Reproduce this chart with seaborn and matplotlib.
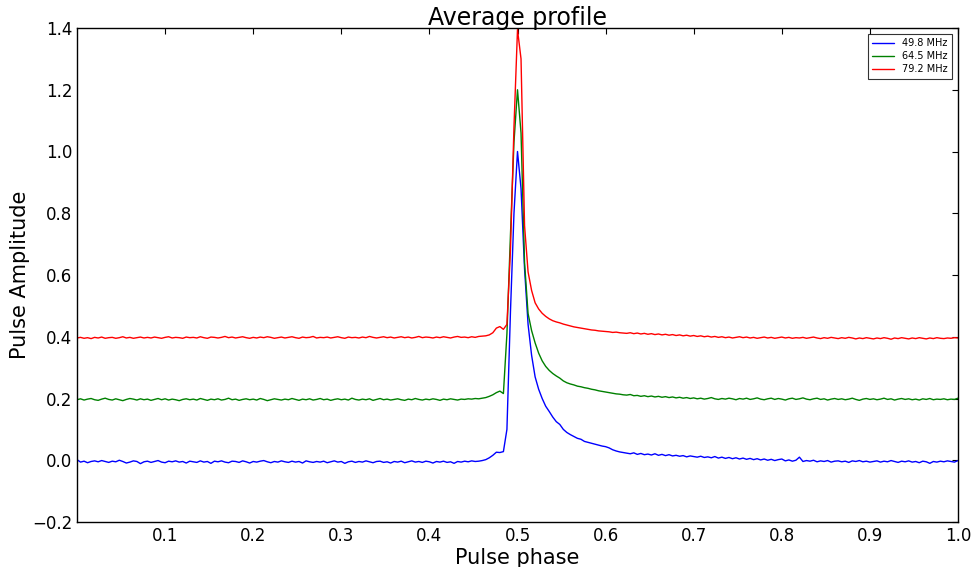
import numpy as np
import pandas as pd
import matplotlib
matplotlib.use("Agg")
import matplotlib.pyplot as plt
import seaborn as sns

# ---- data ----
freq_labels = ["49.8 MHz", "64.5 MHz", "79.2 MHz"]
phase_step = 0.004

amp_49_8 = [
    0.002, -0.006, -0.003, -0.008, -0.004, -0.002, -0.005, -0.001, -0.004, -0.007,
    -0.003, -0.005, 0.000, -0.004, -0.009, -0.006, -0.002, -0.004, -0.011, -0.005,
    -0.003, -0.007, -0.004, -0.001, -0.006, -0.008, -0.003, -0.005, -0.002, -0.006,
    -0.004, -0.009, -0.003, -0.005, -0.007, -0.002, -0.006, -0.004, -0.010, -0.003,
    -0.005, -0.002, -0.006, -0.008, -0.003, -0.004, -0.007, -0.002, -0.005, -0.009,
    -0.004, -0.006, -0.003, -0.001, -0.005, -0.008, -0.004, -0.006, -0.002, -0.005,
    -0.007, -0.003, -0.006, -0.004, -0.009, -0.002, -0.005, -0.007, -0.004, -0.006,
    -0.003, -0.008, -0.005, -0.002, -0.006, -0.004, -0.010, -0.005, -0.003, -0.007,
    -0.004, -0.006, -0.002, -0.005, -0.008, -0.004, -0.003, -0.007, -0.005, -0.009,
    -0.004, -0.006, -0.003, -0.008, -0.005, -0.002, -0.006, -0.004, -0.007, -0.003,
    -0.005, -0.009, -0.004, -0.006, -0.003, -0.007, -0.005, -0.010, -0.004, -0.006,
    -0.003, -0.005, -0.002, -0.004, -0.003, -0.001,
    0.002, 0.008, 0.016, 0.026, 0.025, 0.028, 0.100, 0.480, 0.800, 1.000,
    0.880, 0.620, 0.440, 0.340, 0.270, 0.230, 0.200, 0.175, 0.158, 0.140,
    0.125, 0.116, 0.100, 0.090, 0.083, 0.077, 0.071, 0.068, 0.061, 0.058,
    0.055, 0.052, 0.049, 0.046, 0.044, 0.040, 0.034, 0.030, 0.027, 0.025,
    0.023, 0.021, 0.024, 0.019, 0.022, 0.018, 0.020, 0.017, 0.021, 0.016,
    0.019, 0.015, 0.018, 0.014, 0.016, 0.013, 0.015, 0.011, 0.014, 0.012,
    0.010, 0.013, 0.009, 0.011, 0.008, 0.012, 0.007, 0.010, 0.006, 0.009,
    0.005, 0.008, 0.004, 0.007, 0.003, 0.006, 0.002, 0.005, 0.001, 0.004,
    0.000, 0.003, -0.001, 0.002, 0.004, -0.002, 0.001, -0.003, 0.000, 0.010,
    -0.004, -0.001, -0.003, 0.000, -0.005, -0.002, -0.004, -0.001, -0.006, -0.003,
    -0.002, -0.005, -0.003, -0.007, -0.002, -0.004, -0.001, -0.005, -0.003, -0.006,
    -0.004, -0.002, -0.006, -0.003, -0.005, -0.001, -0.004, -0.007, -0.003, -0.005,
    -0.002, -0.006, -0.004, -0.008, -0.003, -0.005, -0.010, -0.004, -0.006, -0.003,
    -0.005, -0.002, -0.004, -0.006, -0.001,
]

amp_64_5 = [
    0.196, 0.199, 0.195, 0.198, 0.200, 0.196, 0.194, 0.198, 0.201, 0.197,
    0.195, 0.199, 0.196, 0.193, 0.197, 0.200, 0.198, 0.195, 0.199, 0.196,
    0.198, 0.194, 0.197, 0.200, 0.196, 0.199, 0.195, 0.198, 0.196, 0.193,
    0.197, 0.199, 0.196, 0.198, 0.195, 0.200, 0.197, 0.194, 0.198, 0.196,
    0.199, 0.195, 0.197, 0.201, 0.196, 0.198, 0.194, 0.197, 0.199, 0.196,
    0.198, 0.195, 0.200, 0.197, 0.193, 0.196, 0.199, 0.197, 0.195, 0.198,
    0.196, 0.200, 0.197, 0.194, 0.198, 0.196, 0.199, 0.195, 0.197, 0.200,
    0.196, 0.198, 0.194, 0.197, 0.199, 0.196, 0.198, 0.195, 0.201, 0.197,
    0.195, 0.198, 0.196, 0.199, 0.194, 0.197, 0.200, 0.196, 0.198, 0.195,
    0.197, 0.199, 0.196, 0.194, 0.198, 0.196, 0.200, 0.197, 0.195, 0.198,
    0.196, 0.199, 0.197, 0.194, 0.198, 0.196, 0.199, 0.197, 0.195, 0.198,
    0.197, 0.199, 0.198, 0.200, 0.199, 0.201,
    0.203, 0.207, 0.212, 0.219, 0.224, 0.216, 0.410, 0.730, 1.030, 1.200,
    1.060, 0.640, 0.475, 0.420, 0.380, 0.347, 0.322, 0.304, 0.291, 0.281,
    0.273, 0.266, 0.257, 0.251, 0.247, 0.244, 0.240, 0.238, 0.235, 0.233,
    0.230, 0.228, 0.225, 0.223, 0.221, 0.219, 0.217, 0.215, 0.214, 0.212,
    0.211, 0.213, 0.209, 0.210, 0.207, 0.209, 0.206, 0.208, 0.205, 0.207,
    0.204, 0.206, 0.203, 0.205, 0.202, 0.204, 0.201, 0.203, 0.200, 0.202,
    0.199, 0.201, 0.198, 0.200, 0.203, 0.199, 0.197, 0.200, 0.198, 0.201,
    0.199, 0.196, 0.200, 0.198, 0.201, 0.197, 0.199, 0.202, 0.198, 0.196,
    0.199, 0.201, 0.197, 0.200, 0.198, 0.195, 0.199, 0.201, 0.197, 0.199,
    0.202, 0.198, 0.196, 0.199, 0.201, 0.197, 0.199, 0.195, 0.198, 0.200,
    0.197, 0.199, 0.196, 0.198, 0.201, 0.197, 0.194, 0.198, 0.200, 0.197,
    0.199, 0.196, 0.198, 0.201, 0.197, 0.199, 0.195, 0.198, 0.200, 0.197,
    0.199, 0.196, 0.198, 0.195, 0.199, 0.197, 0.200, 0.196, 0.198, 0.197,
    0.199, 0.196, 0.198, 0.197, 0.201,
]

amp_79_2 = [
    0.396, 0.398, 0.395, 0.397, 0.394, 0.398, 0.396, 0.399, 0.395, 0.397,
    0.398, 0.395, 0.397, 0.400, 0.396, 0.398, 0.395, 0.397, 0.399, 0.396,
    0.398, 0.396, 0.399, 0.397, 0.395, 0.398, 0.400, 0.396, 0.398, 0.397,
    0.395, 0.399, 0.397, 0.398, 0.396, 0.400, 0.397, 0.395, 0.399, 0.398,
    0.396, 0.398, 0.401, 0.397, 0.399, 0.396, 0.398, 0.400, 0.397, 0.395,
    0.398, 0.396, 0.399, 0.397, 0.400, 0.398, 0.395, 0.397, 0.399, 0.396,
    0.398, 0.400, 0.397, 0.395, 0.399, 0.397, 0.398, 0.401, 0.396, 0.398,
    0.397, 0.399, 0.396, 0.398, 0.400, 0.397, 0.395, 0.399, 0.397, 0.398,
    0.396, 0.399, 0.397, 0.401, 0.398, 0.396, 0.398, 0.400, 0.397, 0.399,
    0.396, 0.398, 0.400, 0.397, 0.399, 0.396, 0.398, 0.401, 0.397, 0.399,
    0.398, 0.396, 0.399, 0.397, 0.400, 0.398, 0.396, 0.399, 0.401, 0.398,
    0.399, 0.397, 0.400, 0.398, 0.401, 0.402,
    0.403, 0.406, 0.413, 0.428, 0.433, 0.424, 0.440, 0.680, 1.080, 1.395,
    1.300, 0.760, 0.610, 0.550, 0.510, 0.490, 0.476, 0.466, 0.458, 0.452,
    0.448, 0.445, 0.441, 0.438, 0.435, 0.432, 0.430, 0.428, 0.426, 0.424,
    0.422, 0.421, 0.419, 0.418, 0.417, 0.416, 0.414, 0.415, 0.413, 0.412,
    0.411, 0.413, 0.410, 0.412, 0.409, 0.411, 0.408, 0.410, 0.407, 0.409,
    0.406, 0.408, 0.405, 0.407, 0.404, 0.406, 0.403, 0.405, 0.402, 0.404,
    0.401, 0.403, 0.400, 0.402, 0.399, 0.401, 0.398, 0.400, 0.397, 0.399,
    0.396, 0.398, 0.400, 0.397, 0.399, 0.396, 0.398, 0.395, 0.397, 0.399,
    0.396, 0.398, 0.395, 0.397, 0.399, 0.396, 0.398, 0.395, 0.397, 0.396,
    0.398, 0.395, 0.397, 0.399, 0.396, 0.394, 0.397, 0.395, 0.398, 0.396,
    0.394, 0.397, 0.395, 0.398, 0.396, 0.393, 0.396, 0.394, 0.397, 0.395,
    0.393, 0.396, 0.394, 0.397, 0.395, 0.392, 0.396, 0.394, 0.397, 0.395,
    0.393, 0.396, 0.394, 0.397, 0.395, 0.393, 0.396, 0.394, 0.397, 0.395,
    0.394, 0.396, 0.395, 0.397, 0.396,
]

x_ticks = [0.1, 0.2, 0.3, 0.4, 0.5, 0.6, 0.7, 0.8, 0.9, 1.0]
y_ticks = [-0.2, 0.0, 0.2, 0.4, 0.6, 0.8, 1.0, 1.2, 1.4]

# ---- build long-form table ----
frames = []
for lab, vals in zip(freq_labels, [amp_49_8, amp_64_5, amp_79_2]):
    ph = np.arange(len(vals)) * phase_step
    frames.append(pd.DataFrame({"phase": ph, "amp": vals, "freq": lab}))
df = pd.concat(frames, ignore_index=True)

sns.set_style("white")
plt.rcParams["font.family"] = ["DejaVu Sans"]
plt.rcParams["text.color"] = "black"
plt.rcParams["axes.labelcolor"] = "black"
plt.rcParams["xtick.color"] = "black"
plt.rcParams["ytick.color"] = "black"

fig = plt.figure(figsize=(9.74, 5.67), dpi=100)
ax = fig.add_axes([77 / 974, 1 - 522 / 567, (958 - 77) / 974, (522 - 28) / 567])

sns.lineplot(data=df, x="phase", y="amp", hue="freq",
             palette={"49.8 MHz": "#0000ff", "64.5 MHz": "#008000", "79.2 MHz": "#ff0000"},
             linewidth=1.0, ax=ax, estimator=None, sort=False)

ax.set_xlim(0, 1)
ax.set_ylim(-0.2, 1.4)
ax.set_xticks(x_ticks)
ax.set_xticklabels([f"{t:.1f}" for t in x_ticks])
ax.set_yticks(y_ticks)
ax.set_yticklabels([f"{t:.1f}".replace("-", "\u2212") for t in y_ticks])
ax.tick_params(direction="in", length=4, width=0.8, top=True, right=True,
               labelsize=12, colors="black")
for s in ax.spines.values():
    s.set_color("black")
    s.set_linewidth(1.0)

ax.set_xlabel("Pulse phase", fontsize=15, labelpad=2, color="black")
ax.set_ylabel("Pulse Amplitude", fontsize=15, labelpad=1, color="black")
ax.set_title("Average profile", fontsize=17, pad=2, color="black")

leg = ax.legend(loc="upper right", fontsize=7, frameon=True, fancybox=False,
                handlelength=2.2, handletextpad=0.9, borderpad=0.45,
                labelspacing=0.3, borderaxespad=0.0,
                bbox_to_anchor=(0.9935, 0.988))
leg.get_frame().set_edgecolor("black")
leg.get_frame().set_linewidth(0.8)
for t in leg.get_texts():
    t.set_color("black")

fig.savefig("out.png", dpi=100)
